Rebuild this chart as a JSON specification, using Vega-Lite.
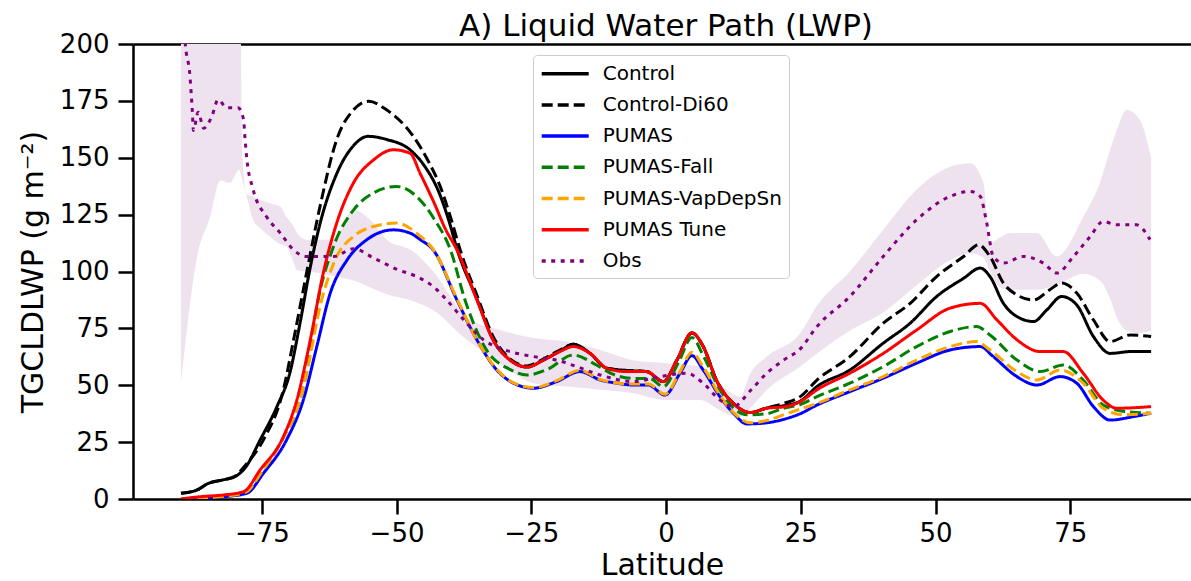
{
  "$schema": "https://vega.github.io/schema/vega-lite/v6.json",
  "width": 1058,
  "height": 455,
  "autosize": "none",
  "padding": {"left": 133, "top": 44, "right": 0, "bottom": 82},
  "config": {
    "view": {"stroke": null},
    "font": "DejaVu Sans",
    "axis": {"labelFont": "DejaVu Sans", "titleFont": "DejaVu Sans", "labelColor": "black", "titleColor": "black", "domainColor": "black", "tickColor": "black", "grid": false, "labelFontSize": 26, "titleFontSize": 30, "titleFontWeight": "normal", "tickSize": 15, "tickWidth": 2.5, "domainWidth": 2.5}
  },
  "title": {"text": "A) Liquid Water Path (LWP)", "fontSize": 31, "fontWeight": "normal", "font": "DejaVu Sans", "color": "black", "anchor": "middle", "offset": 6, "dx": 4, "dy": 18},
  "datasets": {
    "band": [
      {"lat": -90, "lo": 51, "hi": 260},
      {"lat": -87, "lo": 106.6, "hi": 260},
      {"lat": -84.6, "lo": 124, "hi": 260},
      {"lat": -82.7, "lo": 140, "hi": 260},
      {"lat": -80.9, "lo": 139, "hi": 260},
      {"lat": -79.2, "lo": 144.7, "hi": 260},
      {"lat": -78.6, "lo": 140, "hi": 150},
      {"lat": -77.8, "lo": 133, "hi": 134},
      {"lat": -76.6, "lo": 122.7, "hi": 133},
      {"lat": -75.3, "lo": 119, "hi": 131.5},
      {"lat": -73.5, "lo": 115.4, "hi": 130},
      {"lat": -71.6, "lo": 112, "hi": 128.6},
      {"lat": -70.4, "lo": 111, "hi": 124},
      {"lat": -69.1, "lo": 104, "hi": 119.8},
      {"lat": -68.5, "lo": 100.7, "hi": 117},
      {"lat": -66.7, "lo": 100, "hi": 114},
      {"lat": -64.2, "lo": 99.3, "hi": 114},
      {"lat": -61.8, "lo": 98, "hi": 114},
      {"lat": -58, "lo": 96, "hi": 127},
      {"lat": -54.9, "lo": 93, "hi": 122.7},
      {"lat": -51.8, "lo": 90, "hi": 114},
      {"lat": -47, "lo": 87, "hi": 109},
      {"lat": -43.2, "lo": 83, "hi": 100},
      {"lat": -37, "lo": 70, "hi": 80},
      {"lat": -30.8, "lo": 59.7, "hi": 74.3},
      {"lat": -24.6, "lo": 50.9, "hi": 70.8},
      {"lat": -18.4, "lo": 49.4, "hi": 69.2},
      {"lat": -12.2, "lo": 48, "hi": 65.5},
      {"lat": -6.1, "lo": 46.5, "hi": 61},
      {"lat": 0, "lo": 43.5, "hi": 59.7},
      {"lat": 6.3, "lo": 43.5, "hi": 58.2},
      {"lat": 10, "lo": 39, "hi": 51},
      {"lat": 11.3, "lo": 37.5, "hi": 48},
      {"lat": 13.7, "lo": 36.2, "hi": 45},
      {"lat": 15.6, "lo": 40, "hi": 55},
      {"lat": 18.7, "lo": 48, "hi": 62.6},
      {"lat": 24.9, "lo": 58.2, "hi": 72.9},
      {"lat": 28, "lo": 64, "hi": 85},
      {"lat": 34.1, "lo": 74, "hi": 100},
      {"lat": 40.3, "lo": 82, "hi": 118.3},
      {"lat": 46.5, "lo": 94, "hi": 136},
      {"lat": 52.7, "lo": 105, "hi": 146},
      {"lat": 56.4, "lo": 108, "hi": 147.6},
      {"lat": 58.9, "lo": 106, "hi": 138.9},
      {"lat": 60.1, "lo": 100, "hi": 112.5},
      {"lat": 62, "lo": 93, "hi": 115},
      {"lat": 63.8, "lo": 92, "hi": 116.9},
      {"lat": 68.8, "lo": 92, "hi": 116.9},
      {"lat": 72.5, "lo": 94, "hi": 106.6},
      {"lat": 77.4, "lo": 99, "hi": 124},
      {"lat": 80.5, "lo": 96, "hi": 139},
      {"lat": 82.4, "lo": 88, "hi": 153.5},
      {"lat": 83.6, "lo": 80, "hi": 162},
      {"lat": 85.5, "lo": 74, "hi": 171},
      {"lat": 87.9, "lo": 73, "hi": 166.7},
      {"lat": 90, "lo": 74, "hi": 150}
    ],
    "lines": [
      {"s": "Control", "lat": -90, "v": 2.5},
      {"s": "Control", "lat": -87, "v": 4},
      {"s": "Control", "lat": -85, "v": 6.8},
      {"s": "Control", "lat": -82, "v": 8.5},
      {"s": "Control", "lat": -80, "v": 9.8},
      {"s": "Control", "lat": -78, "v": 14},
      {"s": "Control", "lat": -75.3, "v": 26},
      {"s": "Control", "lat": -72.2, "v": 40.6},
      {"s": "Control", "lat": -69.8, "v": 55.4},
      {"s": "Control", "lat": -67.9, "v": 77.4},
      {"s": "Control", "lat": -66, "v": 102},
      {"s": "Control", "lat": -64.2, "v": 121},
      {"s": "Control", "lat": -61.1, "v": 143},
      {"s": "Control", "lat": -58.1, "v": 155},
      {"s": "Control", "lat": -55.3, "v": 159.4},
      {"s": "Control", "lat": -51.8, "v": 158},
      {"s": "Control", "lat": -47.5, "v": 153.5},
      {"s": "Control", "lat": -45, "v": 147},
      {"s": "Control", "lat": -42, "v": 134},
      {"s": "Control", "lat": -40, "v": 120},
      {"s": "Control", "lat": -38.8, "v": 110},
      {"s": "Control", "lat": -35.1, "v": 88},
      {"s": "Control", "lat": -32.1, "v": 70},
      {"s": "Control", "lat": -28.9, "v": 61},
      {"s": "Control", "lat": -25.8, "v": 58},
      {"s": "Control", "lat": -22.8, "v": 61},
      {"s": "Control", "lat": -19.7, "v": 65},
      {"s": "Control", "lat": -17.2, "v": 68},
      {"s": "Control", "lat": -14.1, "v": 64},
      {"s": "Control", "lat": -11, "v": 57.5},
      {"s": "Control", "lat": -7.3, "v": 56.5},
      {"s": "Control", "lat": -3.6, "v": 56},
      {"s": "Control", "lat": -0.5, "v": 51.6},
      {"s": "Control", "lat": 2, "v": 61},
      {"s": "Control", "lat": 4.8, "v": 73},
      {"s": "Control", "lat": 6.9, "v": 67},
      {"s": "Control", "lat": 9.4, "v": 52},
      {"s": "Control", "lat": 12.5, "v": 42},
      {"s": "Control", "lat": 15.6, "v": 38},
      {"s": "Control", "lat": 18.7, "v": 40},
      {"s": "Control", "lat": 21.8, "v": 41},
      {"s": "Control", "lat": 24.9, "v": 43},
      {"s": "Control", "lat": 28, "v": 49.4},
      {"s": "Control", "lat": 34.1, "v": 56.7},
      {"s": "Control", "lat": 40.3, "v": 68.5},
      {"s": "Control", "lat": 45.3, "v": 77.3},
      {"s": "Control", "lat": 50.2, "v": 89},
      {"s": "Control", "lat": 55.2, "v": 97},
      {"s": "Control", "lat": 58.3, "v": 101.5},
      {"s": "Control", "lat": 60.1, "v": 97.8},
      {"s": "Control", "lat": 62.6, "v": 86},
      {"s": "Control", "lat": 65.1, "v": 80.2},
      {"s": "Control", "lat": 68.2, "v": 78},
      {"s": "Control", "lat": 70.6, "v": 83},
      {"s": "Control", "lat": 73.4, "v": 89},
      {"s": "Control", "lat": 76.2, "v": 85.3},
      {"s": "Control", "lat": 79.3, "v": 71.4},
      {"s": "Control", "lat": 82.4, "v": 64},
      {"s": "Control", "lat": 86.1, "v": 64.8},
      {"s": "Control", "lat": 90, "v": 64.8},

      {"s": "Control-Di60", "lat": -90, "v": 2.5},
      {"s": "Control-Di60", "lat": -87, "v": 4},
      {"s": "Control-Di60", "lat": -85, "v": 6.8},
      {"s": "Control-Di60", "lat": -82, "v": 8.5},
      {"s": "Control-Di60", "lat": -80, "v": 10},
      {"s": "Control-Di60", "lat": -78, "v": 15},
      {"s": "Control-Di60", "lat": -74.7, "v": 26},
      {"s": "Control-Di60", "lat": -71, "v": 48},
      {"s": "Control-Di60", "lat": -69.1, "v": 70},
      {"s": "Control-Di60", "lat": -66.7, "v": 99.3},
      {"s": "Control-Di60", "lat": -64.2, "v": 128.6},
      {"s": "Control-Di60", "lat": -61.1, "v": 158},
      {"s": "Control-Di60", "lat": -58, "v": 171},
      {"s": "Control-Di60", "lat": -55.2, "v": 174.8},
      {"s": "Control-Di60", "lat": -51.8, "v": 171},
      {"s": "Control-Di60", "lat": -46.9, "v": 159.4},
      {"s": "Control-Di60", "lat": -44, "v": 148},
      {"s": "Control-Di60", "lat": -42, "v": 138},
      {"s": "Control-Di60", "lat": -40, "v": 124},
      {"s": "Control-Di60", "lat": -38, "v": 108},
      {"s": "Control-Di60", "lat": -35, "v": 89},
      {"s": "Control-Di60", "lat": -32, "v": 71},
      {"s": "Control-Di60", "lat": -28.9, "v": 61.5},
      {"s": "Control-Di60", "lat": -25.8, "v": 58.5},
      {"s": "Control-Di60", "lat": -22.8, "v": 61.5},
      {"s": "Control-Di60", "lat": -19.7, "v": 65.5},
      {"s": "Control-Di60", "lat": -17.2, "v": 68},
      {"s": "Control-Di60", "lat": -14.1, "v": 64},
      {"s": "Control-Di60", "lat": -11, "v": 57.5},
      {"s": "Control-Di60", "lat": -7.3, "v": 56.5},
      {"s": "Control-Di60", "lat": -3.6, "v": 56},
      {"s": "Control-Di60", "lat": -0.5, "v": 51.6},
      {"s": "Control-Di60", "lat": 2, "v": 61},
      {"s": "Control-Di60", "lat": 4.8, "v": 73},
      {"s": "Control-Di60", "lat": 6.9, "v": 67},
      {"s": "Control-Di60", "lat": 9.4, "v": 52},
      {"s": "Control-Di60", "lat": 12.5, "v": 42},
      {"s": "Control-Di60", "lat": 15.6, "v": 38},
      {"s": "Control-Di60", "lat": 18.7, "v": 40},
      {"s": "Control-Di60", "lat": 21.8, "v": 42},
      {"s": "Control-Di60", "lat": 24.9, "v": 45},
      {"s": "Control-Di60", "lat": 28, "v": 52.3},
      {"s": "Control-Di60", "lat": 34.1, "v": 62.6},
      {"s": "Control-Di60", "lat": 40.3, "v": 77.3},
      {"s": "Control-Di60", "lat": 45.3, "v": 86},
      {"s": "Control-Di60", "lat": 50.2, "v": 97.8},
      {"s": "Control-Di60", "lat": 55.2, "v": 106.6},
      {"s": "Control-Di60", "lat": 58, "v": 111.7},
      {"s": "Control-Di60", "lat": 60.1, "v": 106.6},
      {"s": "Control-Di60", "lat": 62.6, "v": 94.9},
      {"s": "Control-Di60", "lat": 65.1, "v": 89.7},
      {"s": "Control-Di60", "lat": 68.2, "v": 87.5},
      {"s": "Control-Di60", "lat": 71.2, "v": 92},
      {"s": "Control-Di60", "lat": 73.4, "v": 94.9},
      {"s": "Control-Di60", "lat": 76.2, "v": 90.5},
      {"s": "Control-Di60", "lat": 79.3, "v": 78.7},
      {"s": "Control-Di60", "lat": 82.4, "v": 69.2},
      {"s": "Control-Di60", "lat": 86.1, "v": 72.1},
      {"s": "Control-Di60", "lat": 90, "v": 71.4},

      {"s": "PUMAS", "lat": -90, "v": 0},
      {"s": "PUMAS", "lat": -86, "v": 0.3},
      {"s": "PUMAS", "lat": -82, "v": 1},
      {"s": "PUMAS", "lat": -77.8, "v": 2.5},
      {"s": "PUMAS", "lat": -74.7, "v": 11.3},
      {"s": "PUMAS", "lat": -70.4, "v": 26},
      {"s": "PUMAS", "lat": -67.3, "v": 43.5},
      {"s": "PUMAS", "lat": -64.8, "v": 67},
      {"s": "PUMAS", "lat": -62.3, "v": 90.5},
      {"s": "PUMAS", "lat": -59.2, "v": 105},
      {"s": "PUMAS", "lat": -55.5, "v": 114},
      {"s": "PUMAS", "lat": -50.6, "v": 118.3},
      {"s": "PUMAS", "lat": -47.5, "v": 116.9},
      {"s": "PUMAS", "lat": -45.6, "v": 114},
      {"s": "PUMAS", "lat": -43.2, "v": 109.5},
      {"s": "PUMAS", "lat": -38.8, "v": 87.5},
      {"s": "PUMAS", "lat": -35.1, "v": 70},
      {"s": "PUMAS", "lat": -31.4, "v": 56.7},
      {"s": "PUMAS", "lat": -28.3, "v": 50.9},
      {"s": "PUMAS", "lat": -24.6, "v": 48.7},
      {"s": "PUMAS", "lat": -20.3, "v": 51.6},
      {"s": "PUMAS", "lat": -16, "v": 56},
      {"s": "PUMAS", "lat": -12.2, "v": 52.3},
      {"s": "PUMAS", "lat": -9.1, "v": 50.9},
      {"s": "PUMAS", "lat": -6.1, "v": 50.1},
      {"s": "PUMAS", "lat": -3.3, "v": 50.1},
      {"s": "PUMAS", "lat": -0.2, "v": 45.7},
      {"s": "PUMAS", "lat": 2.6, "v": 55.3},
      {"s": "PUMAS", "lat": 4.8, "v": 63},
      {"s": "PUMAS", "lat": 6.9, "v": 56.7},
      {"s": "PUMAS", "lat": 10, "v": 45},
      {"s": "PUMAS", "lat": 12.5, "v": 37.7},
      {"s": "PUMAS", "lat": 15, "v": 33},
      {"s": "PUMAS", "lat": 18.7, "v": 33.5},
      {"s": "PUMAS", "lat": 21.8, "v": 35},
      {"s": "PUMAS", "lat": 24.9, "v": 37.5},
      {"s": "PUMAS", "lat": 28, "v": 41.3},
      {"s": "PUMAS", "lat": 34.1, "v": 47.2},
      {"s": "PUMAS", "lat": 40.3, "v": 53.1},
      {"s": "PUMAS", "lat": 46.5, "v": 59.7},
      {"s": "PUMAS", "lat": 52.7, "v": 65.5},
      {"s": "PUMAS", "lat": 58.3, "v": 67},
      {"s": "PUMAS", "lat": 60.7, "v": 62.6},
      {"s": "PUMAS", "lat": 65.1, "v": 53.8},
      {"s": "PUMAS", "lat": 68.8, "v": 50.1},
      {"s": "PUMAS", "lat": 73.1, "v": 53.8},
      {"s": "PUMAS", "lat": 76.2, "v": 50.9},
      {"s": "PUMAS", "lat": 79.3, "v": 40.6},
      {"s": "PUMAS", "lat": 82.4, "v": 34.7},
      {"s": "PUMAS", "lat": 86.7, "v": 36.2},
      {"s": "PUMAS", "lat": 90, "v": 37.7},

      {"s": "PUMAS-Fall", "lat": -90, "v": 0},
      {"s": "PUMAS-Fall", "lat": -86, "v": 0.5},
      {"s": "PUMAS-Fall", "lat": -82, "v": 1.2},
      {"s": "PUMAS-Fall", "lat": -78, "v": 3},
      {"s": "PUMAS-Fall", "lat": -75, "v": 12},
      {"s": "PUMAS-Fall", "lat": -71, "v": 27},
      {"s": "PUMAS-Fall", "lat": -68, "v": 43},
      {"s": "PUMAS-Fall", "lat": -66.7, "v": 55.3},
      {"s": "PUMAS-Fall", "lat": -64.8, "v": 84.6},
      {"s": "PUMAS-Fall", "lat": -61.7, "v": 111},
      {"s": "PUMAS-Fall", "lat": -58, "v": 127},
      {"s": "PUMAS-Fall", "lat": -54.3, "v": 134.5},
      {"s": "PUMAS-Fall", "lat": -50, "v": 137.4},
      {"s": "PUMAS-Fall", "lat": -46.3, "v": 133},
      {"s": "PUMAS-Fall", "lat": -43, "v": 123},
      {"s": "PUMAS-Fall", "lat": -40, "v": 109.5},
      {"s": "PUMAS-Fall", "lat": -37.3, "v": 87.5},
      {"s": "PUMAS-Fall", "lat": -33.3, "v": 65.5},
      {"s": "PUMAS-Fall", "lat": -29, "v": 57},
      {"s": "PUMAS-Fall", "lat": -25.8, "v": 54.5},
      {"s": "PUMAS-Fall", "lat": -22, "v": 57},
      {"s": "PUMAS-Fall", "lat": -17.2, "v": 63.3},
      {"s": "PUMAS-Fall", "lat": -13, "v": 59},
      {"s": "PUMAS-Fall", "lat": -10, "v": 55},
      {"s": "PUMAS-Fall", "lat": -6.1, "v": 53},
      {"s": "PUMAS-Fall", "lat": -3, "v": 53},
      {"s": "PUMAS-Fall", "lat": -0.5, "v": 49.4},
      {"s": "PUMAS-Fall", "lat": 2.3, "v": 60},
      {"s": "PUMAS-Fall", "lat": 4.8, "v": 71},
      {"s": "PUMAS-Fall", "lat": 6.9, "v": 63},
      {"s": "PUMAS-Fall", "lat": 10, "v": 48},
      {"s": "PUMAS-Fall", "lat": 12.5, "v": 40},
      {"s": "PUMAS-Fall", "lat": 15, "v": 37},
      {"s": "PUMAS-Fall", "lat": 18.7, "v": 37.5},
      {"s": "PUMAS-Fall", "lat": 21.8, "v": 39.9},
      {"s": "PUMAS-Fall", "lat": 24.9, "v": 41.5},
      {"s": "PUMAS-Fall", "lat": 28, "v": 45},
      {"s": "PUMAS-Fall", "lat": 34.1, "v": 50.9},
      {"s": "PUMAS-Fall", "lat": 40.3, "v": 58.2},
      {"s": "PUMAS-Fall", "lat": 46.5, "v": 67},
      {"s": "PUMAS-Fall", "lat": 52.7, "v": 73.6},
      {"s": "PUMAS-Fall", "lat": 57.6, "v": 75.8},
      {"s": "PUMAS-Fall", "lat": 60.1, "v": 72.1},
      {"s": "PUMAS-Fall", "lat": 65.1, "v": 61.1},
      {"s": "PUMAS-Fall", "lat": 69.4, "v": 56},
      {"s": "PUMAS-Fall", "lat": 73.7, "v": 58.9},
      {"s": "PUMAS-Fall", "lat": 77.4, "v": 52.3},
      {"s": "PUMAS-Fall", "lat": 81.1, "v": 41.3},
      {"s": "PUMAS-Fall", "lat": 85, "v": 38.5},
      {"s": "PUMAS-Fall", "lat": 90, "v": 37.7},

      {"s": "PUMAS-VapDepSn", "lat": -90, "v": 0},
      {"s": "PUMAS-VapDepSn", "lat": -86, "v": 0.5},
      {"s": "PUMAS-VapDepSn", "lat": -82, "v": 1.2},
      {"s": "PUMAS-VapDepSn", "lat": -78, "v": 3},
      {"s": "PUMAS-VapDepSn", "lat": -75, "v": 12},
      {"s": "PUMAS-VapDepSn", "lat": -71, "v": 27},
      {"s": "PUMAS-VapDepSn", "lat": -68, "v": 43},
      {"s": "PUMAS-VapDepSn", "lat": -66.7, "v": 55},
      {"s": "PUMAS-VapDepSn", "lat": -64.2, "v": 84.6},
      {"s": "PUMAS-VapDepSn", "lat": -61.1, "v": 106.6},
      {"s": "PUMAS-VapDepSn", "lat": -58, "v": 115.4},
      {"s": "PUMAS-VapDepSn", "lat": -54.3, "v": 119.8},
      {"s": "PUMAS-VapDepSn", "lat": -50, "v": 121.3},
      {"s": "PUMAS-VapDepSn", "lat": -46.3, "v": 116.9},
      {"s": "PUMAS-VapDepSn", "lat": -43, "v": 109},
      {"s": "PUMAS-VapDepSn", "lat": -38.8, "v": 88},
      {"s": "PUMAS-VapDepSn", "lat": -35.1, "v": 70},
      {"s": "PUMAS-VapDepSn", "lat": -31.4, "v": 57},
      {"s": "PUMAS-VapDepSn", "lat": -28.3, "v": 51},
      {"s": "PUMAS-VapDepSn", "lat": -24.6, "v": 49},
      {"s": "PUMAS-VapDepSn", "lat": -20.3, "v": 52},
      {"s": "PUMAS-VapDepSn", "lat": -16, "v": 56.5},
      {"s": "PUMAS-VapDepSn", "lat": -12.2, "v": 52.5},
      {"s": "PUMAS-VapDepSn", "lat": -9.1, "v": 51},
      {"s": "PUMAS-VapDepSn", "lat": -6.1, "v": 50.5},
      {"s": "PUMAS-VapDepSn", "lat": -3.3, "v": 50.5},
      {"s": "PUMAS-VapDepSn", "lat": -0.2, "v": 46},
      {"s": "PUMAS-VapDepSn", "lat": 2.6, "v": 56},
      {"s": "PUMAS-VapDepSn", "lat": 4.8, "v": 64.5},
      {"s": "PUMAS-VapDepSn", "lat": 6.9, "v": 58},
      {"s": "PUMAS-VapDepSn", "lat": 10, "v": 45.5},
      {"s": "PUMAS-VapDepSn", "lat": 12.5, "v": 38},
      {"s": "PUMAS-VapDepSn", "lat": 15.6, "v": 33.5},
      {"s": "PUMAS-VapDepSn", "lat": 18.7, "v": 34.5},
      {"s": "PUMAS-VapDepSn", "lat": 21.8, "v": 37},
      {"s": "PUMAS-VapDepSn", "lat": 24.9, "v": 39.5},
      {"s": "PUMAS-VapDepSn", "lat": 28, "v": 42},
      {"s": "PUMAS-VapDepSn", "lat": 34.1, "v": 48},
      {"s": "PUMAS-VapDepSn", "lat": 40.3, "v": 53.8},
      {"s": "PUMAS-VapDepSn", "lat": 46.5, "v": 61.1},
      {"s": "PUMAS-VapDepSn", "lat": 52.7, "v": 67},
      {"s": "PUMAS-VapDepSn", "lat": 57.6, "v": 69.2},
      {"s": "PUMAS-VapDepSn", "lat": 60.1, "v": 65.5},
      {"s": "PUMAS-VapDepSn", "lat": 65.1, "v": 56},
      {"s": "PUMAS-VapDepSn", "lat": 68.8, "v": 52.3},
      {"s": "PUMAS-VapDepSn", "lat": 73.1, "v": 56.7},
      {"s": "PUMAS-VapDepSn", "lat": 77.4, "v": 50.9},
      {"s": "PUMAS-VapDepSn", "lat": 81.1, "v": 39.9},
      {"s": "PUMAS-VapDepSn", "lat": 85, "v": 37},
      {"s": "PUMAS-VapDepSn", "lat": 90, "v": 37.7},

      {"s": "PUMAS Tune", "lat": -90, "v": 0},
      {"s": "PUMAS Tune", "lat": -86.5, "v": 1},
      {"s": "PUMAS Tune", "lat": -82, "v": 1.8},
      {"s": "PUMAS Tune", "lat": -78.4, "v": 3.2},
      {"s": "PUMAS Tune", "lat": -75.3, "v": 12.8},
      {"s": "PUMAS Tune", "lat": -71, "v": 27.4},
      {"s": "PUMAS Tune", "lat": -68.5, "v": 43.5},
      {"s": "PUMAS Tune", "lat": -66, "v": 70},
      {"s": "PUMAS Tune", "lat": -63.6, "v": 99.3},
      {"s": "PUMAS Tune", "lat": -61.1, "v": 121.3},
      {"s": "PUMAS Tune", "lat": -58, "v": 138.9},
      {"s": "PUMAS Tune", "lat": -54.3, "v": 149},
      {"s": "PUMAS Tune", "lat": -50.6, "v": 153.5},
      {"s": "PUMAS Tune", "lat": -47.5, "v": 152},
      {"s": "PUMAS Tune", "lat": -45.6, "v": 143},
      {"s": "PUMAS Tune", "lat": -43, "v": 130},
      {"s": "PUMAS Tune", "lat": -41, "v": 119},
      {"s": "PUMAS Tune", "lat": -38.8, "v": 109.5},
      {"s": "PUMAS Tune", "lat": -35.1, "v": 87.5},
      {"s": "PUMAS Tune", "lat": -32.1, "v": 70},
      {"s": "PUMAS Tune", "lat": -28.9, "v": 61},
      {"s": "PUMAS Tune", "lat": -25.8, "v": 58},
      {"s": "PUMAS Tune", "lat": -22.8, "v": 61},
      {"s": "PUMAS Tune", "lat": -19.7, "v": 64.8},
      {"s": "PUMAS Tune", "lat": -17.2, "v": 67},
      {"s": "PUMAS Tune", "lat": -14.1, "v": 64},
      {"s": "PUMAS Tune", "lat": -11, "v": 57.5},
      {"s": "PUMAS Tune", "lat": -7.3, "v": 56},
      {"s": "PUMAS Tune", "lat": -3.6, "v": 56},
      {"s": "PUMAS Tune", "lat": -0.5, "v": 51.6},
      {"s": "PUMAS Tune", "lat": 2, "v": 61},
      {"s": "PUMAS Tune", "lat": 4.8, "v": 73},
      {"s": "PUMAS Tune", "lat": 6.9, "v": 67},
      {"s": "PUMAS Tune", "lat": 9.4, "v": 52},
      {"s": "PUMAS Tune", "lat": 12.5, "v": 42},
      {"s": "PUMAS Tune", "lat": 15.6, "v": 38},
      {"s": "PUMAS Tune", "lat": 18.7, "v": 39.9},
      {"s": "PUMAS Tune", "lat": 21.8, "v": 40.5},
      {"s": "PUMAS Tune", "lat": 24.9, "v": 42.8},
      {"s": "PUMAS Tune", "lat": 28, "v": 48},
      {"s": "PUMAS Tune", "lat": 34.1, "v": 55.3},
      {"s": "PUMAS Tune", "lat": 40.3, "v": 64},
      {"s": "PUMAS Tune", "lat": 46.5, "v": 74.3},
      {"s": "PUMAS Tune", "lat": 52.7, "v": 83.9},
      {"s": "PUMAS Tune", "lat": 58.3, "v": 86},
      {"s": "PUMAS Tune", "lat": 61.4, "v": 78.7},
      {"s": "PUMAS Tune", "lat": 65.1, "v": 70},
      {"s": "PUMAS Tune", "lat": 69.4, "v": 64.8},
      {"s": "PUMAS Tune", "lat": 73.7, "v": 64.8},
      {"s": "PUMAS Tune", "lat": 77.4, "v": 55.3},
      {"s": "PUMAS Tune", "lat": 81.1, "v": 43.5},
      {"s": "PUMAS Tune", "lat": 83.6, "v": 39.9},
      {"s": "PUMAS Tune", "lat": 90, "v": 40.6},

      {"s": "Obs", "lat": -90, "v": 230},
      {"s": "Obs", "lat": -89.2, "v": 200},
      {"s": "Obs", "lat": -88.3, "v": 185},
      {"s": "Obs", "lat": -88.1, "v": 178},
      {"s": "Obs", "lat": -87.9, "v": 171},
      {"s": "Obs", "lat": -87.7, "v": 162},
      {"s": "Obs", "lat": -86.8, "v": 170},
      {"s": "Obs", "lat": -85.8, "v": 163},
      {"s": "Obs", "lat": -84.3, "v": 168},
      {"s": "Obs", "lat": -83.1, "v": 175.5},
      {"s": "Obs", "lat": -81.5, "v": 172},
      {"s": "Obs", "lat": -79.4, "v": 172},
      {"s": "Obs", "lat": -78.4, "v": 167},
      {"s": "Obs", "lat": -78.1, "v": 158},
      {"s": "Obs", "lat": -77.8, "v": 150},
      {"s": "Obs", "lat": -76.6, "v": 136},
      {"s": "Obs", "lat": -74.1, "v": 124},
      {"s": "Obs", "lat": -71.6, "v": 117},
      {"s": "Obs", "lat": -69.1, "v": 109.5},
      {"s": "Obs", "lat": -66.7, "v": 106.6},
      {"s": "Obs", "lat": -61.7, "v": 106.6},
      {"s": "Obs", "lat": -58, "v": 110},
      {"s": "Obs", "lat": -54.3, "v": 106},
      {"s": "Obs", "lat": -50, "v": 101},
      {"s": "Obs", "lat": -46.3, "v": 97.8},
      {"s": "Obs", "lat": -43, "v": 93},
      {"s": "Obs", "lat": -40.7, "v": 87.5},
      {"s": "Obs", "lat": -37, "v": 77.3},
      {"s": "Obs", "lat": -33.9, "v": 70},
      {"s": "Obs", "lat": -30.8, "v": 66.3},
      {"s": "Obs", "lat": -24.6, "v": 62.6},
      {"s": "Obs", "lat": -20.3, "v": 61.1},
      {"s": "Obs", "lat": -16.6, "v": 58.2},
      {"s": "Obs", "lat": -12.2, "v": 54.5},
      {"s": "Obs", "lat": -6.1, "v": 51.6},
      {"s": "Obs", "lat": -1.1, "v": 53.8},
      {"s": "Obs", "lat": 3.8, "v": 55.3},
      {"s": "Obs", "lat": 6.9, "v": 50.9},
      {"s": "Obs", "lat": 10, "v": 43.5},
      {"s": "Obs", "lat": 12.5, "v": 40.6},
      {"s": "Obs", "lat": 15.6, "v": 47.5},
      {"s": "Obs", "lat": 18.7, "v": 55.3},
      {"s": "Obs", "lat": 21.8, "v": 61},
      {"s": "Obs", "lat": 24.9, "v": 66},
      {"s": "Obs", "lat": 28, "v": 75.8},
      {"s": "Obs", "lat": 34.1, "v": 89},
      {"s": "Obs", "lat": 40.3, "v": 106.6},
      {"s": "Obs", "lat": 46.5, "v": 122.7},
      {"s": "Obs", "lat": 52.7, "v": 133},
      {"s": "Obs", "lat": 56.4, "v": 135.2},
      {"s": "Obs", "lat": 58.3, "v": 133},
      {"s": "Obs", "lat": 59.5, "v": 121.3},
      {"s": "Obs", "lat": 60.7, "v": 106.6},
      {"s": "Obs", "lat": 62.6, "v": 103.7},
      {"s": "Obs", "lat": 66.3, "v": 106.6},
      {"s": "Obs", "lat": 70, "v": 103.7},
      {"s": "Obs", "lat": 72.5, "v": 99.3},
      {"s": "Obs", "lat": 75.6, "v": 106.6},
      {"s": "Obs", "lat": 78.7, "v": 115.4},
      {"s": "Obs", "lat": 81.1, "v": 122},
      {"s": "Obs", "lat": 83.6, "v": 120.5},
      {"s": "Obs", "lat": 87.3, "v": 120.5},
      {"s": "Obs", "lat": 89.8, "v": 114}
    ]
  },
  "layer": [
    {
      "data": {"name": "band"},
      "mark": {"type": "area", "color": "#eee2ef", "opacity": 1, "clip": true, "interpolate": "monotone"},
      "encoding": {
        "x": {"field": "lat", "type": "quantitative", "scale": {"domain": [-98.9, 97.4], "nice": false, "zero": false},
              "axis": {"orient": "bottom", "values": [-75, -50, -25, 0, 25, 50, 75], "title": "Latitude", "labelFlush": false, "labelPadding": 6, "titlePadding": 4}},
        "y": {"field": "lo", "type": "quantitative", "scale": {"domain": [0, 200], "nice": false},
              "axis": {"values": [0, 25, 50, 75, 100, 125, 150, 175, 200], "title": "TGCLDLWP (g m⁻²)", "labelFlush": false, "labelPadding": 9, "titlePadding": 11}},
        "y2": {"field": "hi"}
      }
    },
    {
      "data": {"name": "lines"},
      "mark": {"type": "line", "strokeWidth": 3, "clip": true, "interpolate": "monotone"},
      "encoding": {
        "x": {"field": "lat", "type": "quantitative",
              "axis": {"orient": "top", "labels": false, "ticks": false, "title": null, "domainWidth": 2.5}},
        "y": {"field": "v", "type": "quantitative"},
        "color": {"field": "s", "type": "nominal",
          "scale": {"domain": ["Control", "Control-Di60", "PUMAS", "PUMAS-Fall", "PUMAS-VapDepSn", "PUMAS Tune", "Obs"],
                    "range": ["#000000", "#000000", "#0000ff", "#008000", "#ffa500", "#ff0000", "#800080"]},
          "legend": {"title": null, "orient": "none", "legendX": 400, "legendY": 11, "fillColor": "white", "strokeColor": "#cccccc", "cornerRadius": 4, "padding": 6.7, "labelFontSize": 20, "labelFont": "DejaVu Sans", "labelColor": "black", "symbolType": "M-1,0H3.7", "symbolSize": 400, "symbolStrokeWidth": 3.5, "labelOffset": 39, "rowPadding": 9.2, "labelLimit": 400}},
        "strokeDash": {"field": "s", "type": "nominal",
          "scale": {"domain": ["Control", "Control-Di60", "PUMAS", "PUMAS-Fall", "PUMAS-VapDepSn", "PUMAS Tune", "Obs"],
                    "range": [[1, 0], [11, 5], [1, 0], [11, 5], [11, 5], [1, 0], [4, 5.5]]},
          "legend": {"title": null, "orient": "none", "legendX": 400, "legendY": 11}}
      }
    }
  ],
  "resolve": {"axis": {"x": "independent"}}
}
